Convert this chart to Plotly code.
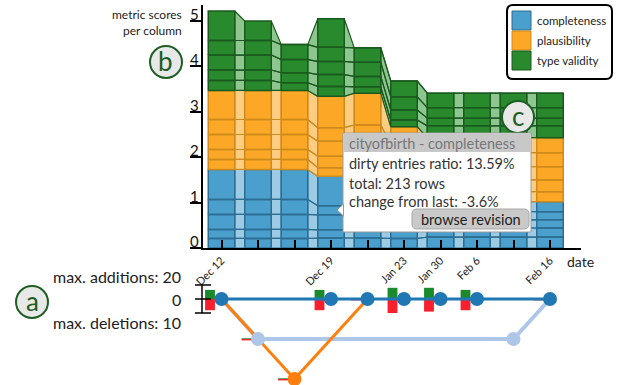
import plotly.graph_objects as go
import numpy as np

W, H = 618, 385
FONT = "Lato"

# ---------------- data ----------------
revision_labels = ["Dec 12", "", "", "Dec 19", "", "Jan 23", "Jan 30", "Feb 6", "", "Feb 16"]

# per-column metric scores for each revision, listed bottom -> top (5 columns)
completeness = [
    [0.21, 0.20, 0.33, 0.33, 0.66],
    [0.21, 0.20, 0.33, 0.33, 0.66],
    [0.21, 0.20, 0.33, 0.33, 0.66],
    [0.22, 0.18, 0.33, 0.20, 0.65],
    [0.22, 0.18, 0.33, 0.25, 0.65],
    [0.21, 0.18, 0.20, 0.20, 0.45],
    [0.24, 0.20, 0.18, 0.18, 0.22],
    [0.24, 0.20, 0.18, 0.18, 0.22],
    [0.24, 0.20, 0.18, 0.18, 0.22],
    [0.24, 0.20, 0.18, 0.18, 0.22],
]
plausibility = [
    [0.22, 0.22, 0.33, 0.33, 0.64],
    [0.22, 0.22, 0.33, 0.33, 0.64],
    [0.22, 0.22, 0.33, 0.33, 0.64],
    [0.19, 0.25, 0.33, 0.30, 0.69],
    [0.20, 0.25, 0.33, 0.30, 0.70],
    [0.20, 0.25, 0.30, 0.30, 0.38],
    [0.22, 0.26, 0.29, 0.31, 0.33],
    [0.22, 0.26, 0.29, 0.31, 0.33],
    [0.22, 0.26, 0.29, 0.31, 0.33],
    [0.22, 0.26, 0.29, 0.31, 0.33],
]
type_validity = [
    [0.22, 0.23, 0.33, 0.32, 0.65],
    [0.22, 0.23, 0.33, 0.32, 0.43],
    [0.17, 0.22, 0.29, 0.33, 0.00],
    [0.22, 0.26, 0.29, 0.31, 0.63],
    [0.14, 0.23, 0.31, 0.32, 0.00],
    [0.15, 0.22, 0.29, 0.35, 0.00],
    [0.26, 0.17, 0.23, 0.32, 0.00],
    [0.26, 0.17, 0.23, 0.32, 0.00],
    [0.26, 0.17, 0.23, 0.32, 0.00],
    [0.26, 0.17, 0.23, 0.32, 0.00],
]
y_ticks = [0, 1, 2, 3, 4, 5]

# revision graph
revision_lane = [0, 1, 2, 0, 0, 0, 0, 0, 1, 0]
main_branch = [0, 3, 4, 5, 6, 7, 9]
light_branch = [0, 1, 8, 9]
orange_branch = [0, 2, 4]
additions = [13, 1, 1, 13, 1, 16, 16, 13, 1, 1]
deletions = [8, 1, 1, 8, 1, 10, 9, 8, 1, 1]
max_additions = 20
max_deletions = 10

# ---------------- layout geometry ----------------
X0, DX = 221.5, 36.5        # px of first revision, px per revision
Y0, DY = 248.0, 45.4        # px of score 0, px per score unit
LANE0, LANE_DY = 299.0, 40.0
BW = 13.25 / DX             # half block width
BAR_H = 14.0 / LANE_DY      # max add/del bar height (lane units)


def px(x):
    return x / W


def py(y):
    return 1 - y / H


def y2_to_px(v):
    return LANE0 - LANE_DY * v


metrics = [
    ("completeness", completeness, "#4a9fcc", "#9ecbe4", "#2d6d93"),
    ("plausibility", plausibility, "#fca726", "#fecd82", "#cf8a1c"),
    ("type validity", type_validity, "#288a2c", "#8dc78f", "#1b5a1f"),
]

fig = go.Figure()
n = len(revision_labels)
base = np.zeros(n)
for name, data, fill, light, border in metrics:
    arr = np.array(data)
    bounds = base[:, None] + np.concatenate([np.zeros((n, 1)), np.cumsum(arr, axis=1)], axis=1)
    tx, ty = [], []
    for i in range(n - 1):
        for k in range(arr.shape[1]):
            xa, xb = i + BW, i + 1 - BW
            tx += [xa, xa, xb, xb, xa, None]
            ty += [bounds[i, k], bounds[i, k + 1], bounds[i + 1, k + 1], bounds[i + 1, k], bounds[i, k], None]
    fig.add_trace(go.Scatter(x=tx, y=ty, mode="lines", fill="toself", fillcolor=light,
                             line=dict(color=border, width=1.2), hoverinfo="skip", showlegend=False))
    cx, cy = [], []
    for i in range(n):
        for k in range(arr.shape[1]):
            xa, xb = i - BW, i + BW
            ya, yb = bounds[i, k], bounds[i, k + 1]
            cx += [xa, xb, xb, xa, xa, None]
            cy += [ya, ya, yb, yb, ya, None]
    fig.add_trace(go.Scatter(x=cx, y=cy, mode="lines", fill="toself", fillcolor=fill,
                             line=dict(color=border, width=1.5), hoverinfo="skip", showlegend=False))
    base = bounds[:, -1]

# ---------------- revision graph ----------------
lane_y = [-l for l in revision_lane]
for branch, color, width in [(light_branch, "#aec7e8", 4), (orange_branch, "#ff7f0e", 3), (main_branch, "#1f77b4", 3)]:
    fig.add_trace(go.Scatter(x=branch, y=[lane_y[i] for i in branch], xaxis="x2", yaxis="y2",
                             mode="lines", line=dict(color=color, width=width),
                             hoverinfo="skip", showlegend=False))

add_norm = [a / max_additions * BAR_H for a in additions]
del_norm = [-d / max_deletions * BAR_H for d in deletions]
fig.add_trace(go.Bar(x=list(range(n)), y=add_norm, base=lane_y, xaxis="x2", yaxis="y2",
                     offset=-0.45, width=0.27, marker=dict(color="#1a8a2c", line=dict(width=0)),
                     hoverinfo="skip", showlegend=False))
fig.add_trace(go.Bar(x=list(range(n)), y=del_norm, base=lane_y, xaxis="x2", yaxis="y2",
                     offset=-0.45, width=0.27, marker=dict(color="#f7202c", line=dict(width=0)),
                     hoverinfo="skip", showlegend=False))
lane_colors = {0: "#1f77b4", 1: "#aec7e8", 2: "#ff7f0e"}
fig.add_trace(go.Scatter(x=list(range(n)), y=lane_y, xaxis="x2", yaxis="y2", mode="markers",
                         marker=dict(size=14, color=[lane_colors[l] for l in revision_lane], line=dict(width=0)),
                         cliponaxis=False, hoverinfo="skip", showlegend=False))

# ---------------- shapes & annotations ----------------
shapes, annots = [], []


def rrect(x0, y0, x1, y1, r):
    return (f"M {px(x0 + r)},{py(y0)} L {px(x1 - r)},{py(y0)} Q {px(x1)},{py(y0)} {px(x1)},{py(y0 + r)} "
            f"L {px(x1)},{py(y1 - r)} Q {px(x1)},{py(y1)} {px(x1 - r)},{py(y1)} "
            f"L {px(x0 + r)},{py(y1)} Q {px(x0)},{py(y1)} {px(x0)},{py(y1 - r)} "
            f"L {px(x0)},{py(y0 + r)} Q {px(x0)},{py(y0)} {px(x0 + r)},{py(y0)} Z")


def text(x, y, s, size, color="#222", xanchor="left", align="left"):
    annots.append(dict(x=px(x), y=py(y), xref="paper", yref="paper", text=s, showarrow=False,
                       xanchor=xanchor, yanchor="middle", align=align,
                       font=dict(family=FONT, size=size, color=color)))


for v in y_ticks:
    annots.append(dict(x=px(194.5), y=v, xref="paper", yref="y", text=str(v), showarrow=False,
                       xanchor="center", yanchor="middle", yshift=7,
                       font=dict(family=FONT, size=15, color="#111")))

text(184, 22, "metric scores<br>per column", 12, xanchor="right", align="right")
text(565, 261, "date", 14)

for (cxp, cyp, letter) in [(32, 302, "a"), (166, 62, "b"), (518, 117, "c")]:
    shapes.append(dict(type="circle", xref="paper", yref="paper",
                       x0=px(cxp - 16), x1=px(cxp + 16), y0=py(cyp + 16), y1=py(cyp - 16),
                       fillcolor="#e8e8e8", line=dict(color="#1d5e22", width=2), layer="above"))
    text(cxp, cyp - 1, letter, 26, color="#1d5e22", xanchor="center", align="center")

shapes.append(dict(type="path", xref="paper", yref="paper", path=rrect(507, 5, 612, 79, 6),
                   fillcolor="white", line=dict(color="black", width=2), layer="above"))
for j, (name, data, fill, light, border) in enumerate(metrics):
    y0 = 11 + j * 20
    shapes.append(dict(type="rect", xref="paper", yref="paper", x0=px(512), x1=px(531),
                       y0=py(y0 + 19), y1=py(y0), fillcolor=fill, line=dict(color=border, width=1), layer="above"))
    text(535, y0 + 9.5, name, 11.5)

shapes.append(dict(type="rect", xref="paper", yref="paper", x0=px(343), x1=px(531), y0=py(232), y1=py(133),
                   fillcolor="white", line=dict(color="#9a9a9a", width=1), layer="above"))
shapes.append(dict(type="path", xref="paper", yref="paper",
                   path=f"M {px(343.5)},{py(204)} L {px(337)},{py(210)} L {px(343.5)},{py(216)} Z",
                   fillcolor="white", line=dict(color="#9a9a9a", width=1), layer="above"))
shapes.append(dict(type="rect", xref="paper", yref="paper", x0=px(343.5), x1=px(530.5), y0=py(152), y1=py(133.5),
                   fillcolor="#c8c8c8", line=dict(width=0), layer="above"))
shapes.append(dict(type="path", xref="paper", yref="paper", path=rrect(412, 209, 529, 229, 5),
                   fillcolor="#c9c9c9", line=dict(color="#a8a8a8", width=1), layer="above"))
text(347, 143, "cityofbirth - completeness", 14.5, color="#777")
text(347, 163, "dirty entries ratio: 13.59%", 14.5, color="#333")
text(347, 183, "total: 213 rows", 14.5, color="#333")
text(347, 202, "change from last: -3.6%", 14.5, color="#333")
text(470.5, 219, "browse revision", 14.5, color="#222", xanchor="center", align="center")

top_px, zero_px, bot_px = y2_to_px(BAR_H), y2_to_px(0), y2_to_px(-BAR_H)
for yy in (top_px, zero_px, bot_px):
    shapes.append(dict(type="line", xref="paper", yref="paper", x0=px(195), x1=px(211), y0=py(yy), y1=py(yy),
                       line=dict(color="black", width=1.5)))
shapes.append(dict(type="line", xref="paper", yref="paper", x0=px(202), x1=px(202), y0=py(top_px), y1=py(bot_px),
                   line=dict(color="black", width=1.5)))
text(183, top_px - 9, f"max. additions: {max_additions}", 16, xanchor="right")
text(183, zero_px, "0", 16, xanchor="right")
text(183, bot_px + 9, f"max. deletions: {max_deletions}", 16, xanchor="right")

fig.update_layout(
    template="none",
    width=W, height=H, margin=dict(l=0, r=0, t=0, b=0, autoexpand=False),
    paper_bgcolor="white", plot_bgcolor="white",
    barmode="overlay", showlegend=False,
    font=dict(family=FONT, color="#222"),
    shapes=shapes, annotations=annots,
    xaxis=dict(domain=[px(203), px(581)], range=[(203 - X0) / DX, (581 - X0) / DX], automargin=False,
               anchor="y", showgrid=False, zeroline=False, showline=True, linecolor="black", linewidth=2,
               ticks="inside", ticklen=8, tickwidth=2, tickcolor="black",
               tickvals=list(range(n)), ticktext=revision_labels, tickangle=-45,
               tickfont=dict(family=FONT, size=11, color="#222")),
    yaxis=dict(domain=[py(248), py(5)], range=[0, (248 - 5) / DY], anchor="x", automargin=False,
               showgrid=False, zeroline=False, showline=True, linecolor="black", linewidth=2,
               ticks="outside", ticklen=11, tickwidth=2, tickcolor="black",
               tickvals=y_ticks, showticklabels=False),
    xaxis2=dict(domain=[0, 1], range=[-X0 / DX, (W - X0) / DX], anchor="y2", visible=False),
    yaxis2=dict(domain=[0, py(262)], range=[(LANE0 - 385) / LANE_DY, (LANE0 - 262) / LANE_DY],
                anchor="x2", visible=False),
)

fig.write_html("out.html", config={"displayModeBar": False, "staticPlot": True},
               post_script="document.body.style.margin='0';document.body.style.overflow='hidden';")
